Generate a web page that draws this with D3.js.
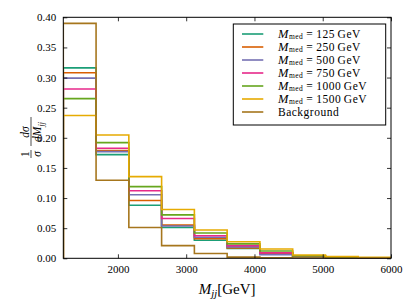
<!DOCTYPE html>
<html>
<head>
<meta charset="utf-8">
<script src="https://cdn.jsdelivr.net/npm/d3@7"></script>
<style>
  body { margin: 0; background: #fff; }
  svg text { font-family: "Liberation Serif", serif; fill: #000; }
</style>
</head>
<body>
<svg id="chart"></svg>
<script>
// bin edges in GeV
const edges = [1200, 1680, 2160, 2640, 3120, 3600, 4080, 4560, 5040, 5520, 6000];

const mmedLabels = ["125", "250", "500", "750", "1000", "1500"];

const sig125  = [0.316, 0.172, 0.088, 0.051, 0.030, 0.0165, 0.008, 0.003, 0.001, 0.0005];
const sig250  = [0.308, 0.179, 0.096, 0.055, 0.0325, 0.017, 0.009, 0.003, 0.001, 0.0005];
const sig500  = [0.299, 0.177, 0.1056, 0.0535, 0.035, 0.019, 0.006, 0.003, 0.001, 0.0005];
const sig750  = [0.281, 0.1826, 0.112, 0.066, 0.0375, 0.021, 0.009, 0.0035, 0.0012, 0.0006];
const sig1000 = [0.265, 0.192, 0.119, 0.072, 0.042, 0.024, 0.012, 0.004, 0.0015, 0.0008];
const sig1500 = [0.237, 0.2046, 0.1355, 0.081, 0.047, 0.0275, 0.0154, 0.0055, 0.0027, 0.0017];
const background = [0.390, 0.1295, 0.051, 0.021, 0.008, 0.002, 0.001, 0.0005, 0.0002, 0.0001];

const yTicks = [0, 0.05, 0.10, 0.15, 0.20, 0.25, 0.30, 0.35, 0.40];
const xTicks = [2000, 3000, 4000, 5000, 6000];

const colors = ["#1b9e77", "#d95f02", "#7570b3", "#e7298a", "#66a61e", "#e6ab02", "#a6761d"];

const series = [sig125, sig250, sig500, sig750, sig1000, sig1500, background].map((v, i) => ({
    values: v,
    color: colors[i],
    label: i < mmedLabels.length ? mmedLabels[i] : null
}));

const W = 415, H = 306;
const margin = { top: 17.3, right: 24, bottom: 47.7, left: 63.3 };
const width = W - margin.left - margin.right;
const height = H - margin.top - margin.bottom;

const svg = d3.select("#chart").attr("width", W).attr("height", H);
const g = svg.append("g").attr("transform", `translate(${margin.left},${margin.top})`);

const x = d3.scaleLinear().domain([1200, 6000]).range([0, width]);
const y = d3.scaleLinear().domain([0, 0.40]).range([height, 0]);

// step outlines like histtype='step'
const stepLine = vals => {
    const pts = [[edges[0], 0]];
    vals.forEach((v, i) => {
        pts.push([edges[i], v]);
        pts.push([edges[i + 1], v]);
    });
    pts.push([edges[edges.length - 1], 0]);
    return d3.line().x(d => x(d[0])).y(d => y(d[1]))(pts);
};

const plot = g.append("g");
plot.append("clipPath").attr("id", "clip")
    .append("rect").attr("width", width).attr("height", height);

plot.selectAll("path.hist")
    .data(series)
    .enter()
    .append("path")
    .attr("class", "hist")
    .attr("clip-path", "url(#clip)")
    .attr("d", d => stepLine(d.values))
    .attr("fill", "none")
    .attr("stroke", d => d.color)
    .attr("stroke-width", 1.6);

// axes, ticks pointing inward on all four sides
const tickLen = 4;
const xAxis = d3.axisBottom(x).tickValues(xTicks).tickFormat(d3.format("d")).tickSizeInner(-tickLen).tickSizeOuter(0).tickPadding(7);
const yAxis = d3.axisLeft(y).tickValues(yTicks).tickFormat(d3.format(".2f")).tickSizeInner(-tickLen).tickSizeOuter(0).tickPadding(7);

g.append("g").attr("transform", `translate(0,${height})`).call(xAxis);
g.append("g").call(yAxis);
g.append("g").call(d3.axisTop(x).tickValues(xTicks).tickSizeInner(-tickLen).tickSizeOuter(0).tickFormat(""));
g.append("g").attr("transform", `translate(${width},0)`)
    .call(d3.axisRight(y).tickValues(yTicks).tickSizeInner(-tickLen).tickSizeOuter(0).tickFormat(""));

g.selectAll(".domain").remove();
g.selectAll(".tick text").style("font-family", "Liberation Serif, serif").style("font-size", "11px");
g.selectAll(".tick line").attr("stroke", "#000").attr("stroke-width", 0.8);

g.append("rect")
    .attr("width", width).attr("height", height)
    .attr("fill", "none").attr("stroke", "#000").attr("stroke-width", 1);

// x label: M_jj[GeV]
const xl = g.append("text")
    .attr("x", width / 2)
    .attr("y", height + 36)
    .attr("text-anchor", "middle")
    .style("font-size", "15px");
xl.append("tspan").style("font-style", "italic").text("M");
xl.append("tspan").style("font-style", "italic").style("font-size", "10.5px").attr("dy", 3).text("jj");
xl.append("tspan").attr("dy", -3).text("[GeV]");

// y label: 1/σ dσ/dM_jj (rotated fraction)
const yl = svg.append("g").attr("transform", "translate(31,136) rotate(-90)");
const fs = 11.5;
yl.append("text").attr("x", -18).attr("y", -2.5).attr("text-anchor", "middle").style("font-size", fs + "px").text("1");
yl.append("line").attr("x1", -22).attr("x2", -14).attr("y1", 0).attr("y2", 0).attr("stroke", "#000").attr("stroke-width", 0.7);
yl.append("text").attr("x", -18).attr("y", 9.5).attr("text-anchor", "middle").style("font-size", fs + "px").style("font-style", "italic").text("σ");
yl.append("text").attr("x", 4).attr("y", -2.5).attr("text-anchor", "middle").style("font-size", fs + "px").style("font-style", "italic").text("dσ");
yl.append("line").attr("x1", -10).attr("x2", 19).attr("y1", 0).attr("y2", 0).attr("stroke", "#000").attr("stroke-width", 0.7);
const den = yl.append("text").attr("x", 4).attr("y", 10).attr("text-anchor", "middle").style("font-size", fs + "px").style("font-style", "italic");
den.append("tspan").text("dM");
den.append("tspan").style("font-size", "8px").attr("dy", 2.5).text("jj");

// legend
const legend = svg.append("g").attr("transform", "translate(233.3,24)");
legend.append("rect")
    .attr("width", 152.4).attr("height", 101)
    .attr("fill", "#fff").attr("stroke", "#000").attr("stroke-width", 1);

const rows = legend.selectAll("g.row")
    .data(series)
    .enter()
    .append("g")
    .attr("class", "row")
    .attr("transform", (d, i) => `translate(0,${10 + i * 13})`);

rows.append("line")
    .attr("x1", 8.7).attr("x2", 30)
    .attr("y1", 0).attr("y2", 0)
    .attr("stroke", d => d.color)
    .attr("stroke-width", 1.6);

rows.each(function (d) {
    const t = d3.select(this).append("text")
        .attr("x", 44.7).attr("y", 3.5)
        .style("font-size", "11.5px")
        .style("letter-spacing", "0.5px");
    if (d.label) {
        t.append("tspan").style("font-style", "italic").style("font-size", "12.5px").text("M");
        t.append("tspan").style("font-size", "7.5px").attr("dy", 1.2).text("med");
        t.append("tspan").attr("dy", -1.2).attr("dx", 3).text("=");
        t.append("tspan").attr("dx", 3).text(d.label);
        t.append("tspan").attr("dx", 2.5).text("GeV");
    } else {
        t.text("Background");
    }
});
</script>
</body>
</html>
